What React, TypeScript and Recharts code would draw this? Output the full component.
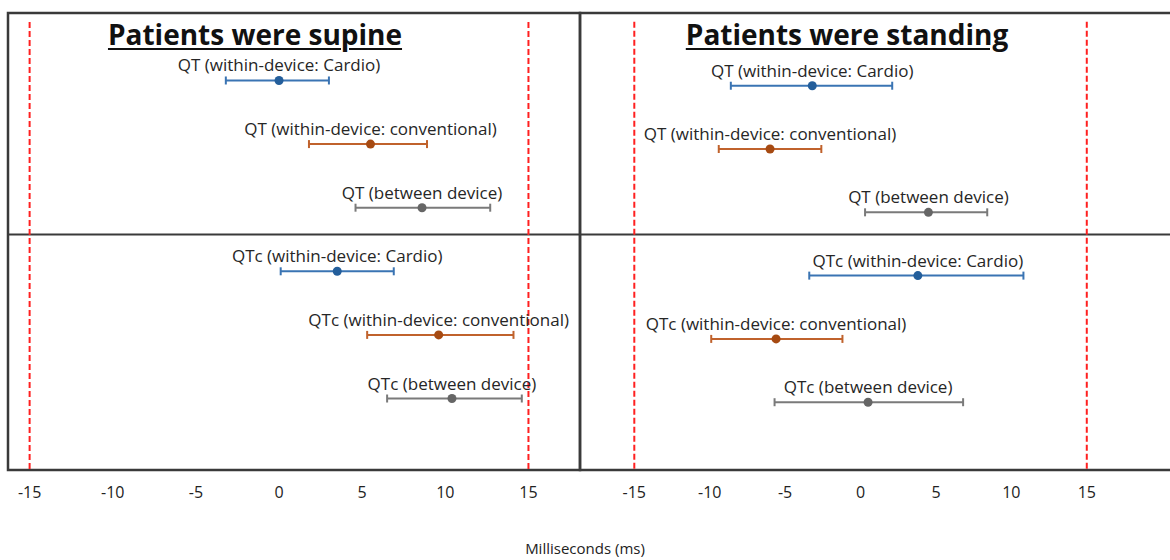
import React from 'react';
import {
  ScatterChart,
  Scatter,
  XAxis,
  YAxis,
  ErrorBar,
  ReferenceLine,
  ReferenceArea,
} from 'recharts';

const FONT = '"Open Sans", "Noto Sans", sans-serif';

// rows top to bottom (QT block, then QTc block)
const rowLabels = [
  'QT (within-device: Cardio)',
  'QT (within-device: conventional)',
  'QT (between device)',
  'QTc (within-device: Cardio)',
  'QTc (within-device: conventional)',
  'QTc (between device)',
];
const rowOrder = [1, 2, 3, 4, 5, 6];
const rowGroup = ['cardio', 'conventional', 'between', 'cardio', 'conventional', 'between'];

// mean difference and 95% CI (ms), patients supine
const supineMean = [0.0, 5.5, 8.6, 3.5, 9.6, 10.4];
const supineLower = [-3.2, 1.8, 4.6, 0.1, 5.3, 6.5];
const supineUpper = [3.0, 8.9, 12.7, 6.9, 14.1, 14.6];

// patients standing
const standingMean = [-3.2, -6.0, 4.5, 3.8, -5.6, 0.5];
const standingLower = [-8.6, -9.4, 0.3, -3.4, -9.9, -5.7];
const standingUpper = [2.1, -2.6, 8.4, 10.8, -1.2, 6.8];

const xTicks = [-15, -10, -5, 0, 5, 10, 15];
const agreementLimits = [-15, 15];

const groupColors: Record<string, { line: string; dot: string }> = {
  cardio: { line: '#3a74b3', dot: '#235e9b' },
  conventional: { line: '#c0622c', dot: '#a64a12' },
  between: { line: '#7a7a7a', dot: '#666666' },
};
const groups = ['cardio', 'conventional', 'between'];

const PLOT_TOP = 13;
const PLOT_HEIGHT = 457;
const FRAME = '#3a3a3a';

interface PanelProps {
  title: string;
  mean: number[];
  lower: number[];
  upper: number[];
  xDomain: [number, number];
  yDomain: [number, number];
  dividerRow: number;
  left: number;
  plotWidth: number;
  marginLeft: number;
  marginRight: number;
  titleCenter: number;
}

const renderPoint = (color: string) => (props: any) => {
  const { cx, cy, payload } = props;
  if (cx == null || cy == null) return <g />;
  return (
    <g>
      <circle cx={cx} cy={cy} r={4.5} fill={color} />
      <text
        x={cx}
        y={cy - 9}
        textAnchor="middle"
        fontSize={17}
        fill="#262626"
        fontFamily={FONT}
      >
        {payload.label}
      </text>
    </g>
  );
};

const Panel: React.FC<PanelProps> = (p) => {
  const rows = rowLabels.map((label, i) => ({
    label,
    row: rowOrder[i],
    group: rowGroup[i],
    mean: p.mean[i],
    err: [p.mean[i] - p.lower[i], p.upper[i] - p.mean[i]],
  }));
  const width = p.marginLeft + p.plotWidth + p.marginRight;

  return (
    <>
      <div
        style={{
          position: 'absolute',
          left: p.titleCenter - 220,
          top: 20,
          width: 440,
          textAlign: 'center',
          fontFamily: FONT,
          fontWeight: 700,
          fontSize: 28,
          lineHeight: '28px',
          color: '#111',
          textDecoration: 'underline',
          textDecorationThickness: 2,
          textUnderlineOffset: 3,
          zIndex: 2,
        }}
      >
        {p.title}
      </div>
      <div style={{ position: 'absolute', left: p.left, top: 0 }}>
        <ScatterChart
          width={width}
          height={PLOT_TOP + PLOT_HEIGHT + 50}
          margin={{ top: PLOT_TOP, left: p.marginLeft, right: p.marginRight, bottom: 0 }}
        >
          <XAxis
            type="number"
            dataKey="mean"
            domain={p.xDomain}
            ticks={xTicks}
            interval={0}
            allowDataOverflow
            axisLine={false}
            tickLine={false}
            tickMargin={11}
            height={50}
            tick={{ fontSize: 16, fill: '#222', fontFamily: FONT }}
          />
          <YAxis type="number" dataKey="row" domain={p.yDomain} reversed hide allowDataOverflow />
          <ReferenceArea
            x1={p.xDomain[0]}
            x2={p.xDomain[1]}
            y1={p.yDomain[0]}
            y2={p.yDomain[1]}
            fill="none"
            stroke={FRAME}
            strokeWidth={2.5}
            ifOverflow="visible"
          />
          <ReferenceLine y={p.dividerRow} stroke={FRAME} strokeWidth={2} />
          {agreementLimits.map((x) => (
            <ReferenceLine
              key={x}
              segment={[
                { x, y: p.yDomain[0] + 0.14 },
                { x, y: p.yDomain[1] },
              ]}
              stroke="#ff2020"
              strokeWidth={2}
              strokeDasharray="6 3"
            />
          ))}
          {groups.map((g) => (
            <Scatter
              key={g}
              data={rows.filter((r) => r.group === g)}
              fill={groupColors[g].dot}
              shape={renderPoint(groupColors[g].dot)}
              isAnimationActive={false}
            >
              <ErrorBar
                dataKey="err"
                direction="x"
                width={4}
                stroke={groupColors[g].line}
                strokeWidth={2}
                isAnimationActive={false}
              />
            </Scatter>
          ))}
        </ScatterChart>
      </div>
    </>
  );
};

export default function App() {
  return (
    <div
      style={{
        position: 'absolute',
        left: 0,
        top: 0,
        width: 1170,
        height: 560,
        overflow: 'hidden',
        background: '#fff',
      }}
    >
      <Panel
        title="Patients were supine"
        mean={supineMean}
        lower={supineLower}
        upper={supineUpper}
        xDomain={[-16.3, 18.1]}
        yDomain={[-0.061, 7.124]}
        dividerRow={3.42}
        left={0}
        plotWidth={572}
        marginLeft={8}
        marginRight={2}
        titleCenter={255}
      />
      <Panel
        title="Patients were standing"
        mean={standingMean}
        lower={standingLower}
        upper={standingUpper}
        xDomain={[-18.6, 20.65]}
        yDomain={[-0.149, 7.071]}
        dividerRow={3.35}
        left={578}
        plotWidth={592}
        marginLeft={2}
        marginRight={0}
        titleCenter={847}
      />
      <div
        style={{
          position: 'absolute',
          left: 385,
          width: 400,
          top: 538,
          textAlign: 'center',
          fontFamily: FONT,
          fontSize: 15,
          lineHeight: '20px',
          color: '#222',
        }}
      >
        Milliseconds (ms)
      </div>
    </div>
  );
}
